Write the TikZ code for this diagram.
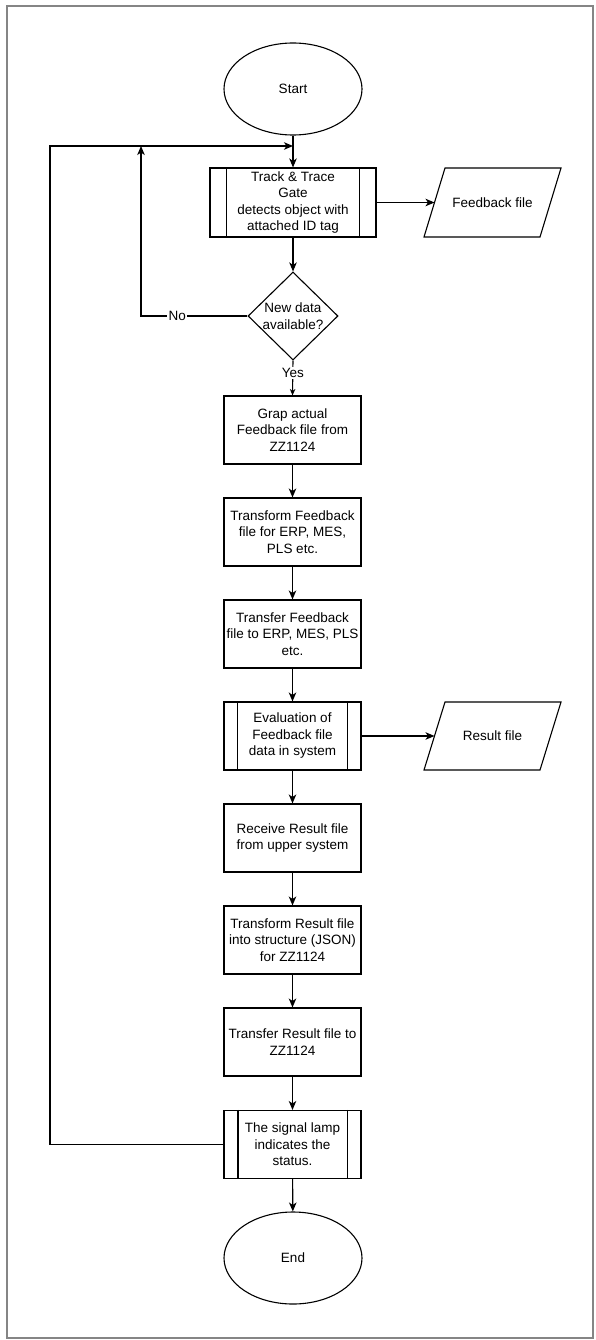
\documentclass[tikz,border=0pt]{standalone}
\usepackage{fontspec}
\setmainfont{Liberation Sans}
\usetikzlibrary{arrows.meta,shapes.geometric}
\definecolor{framegray}{RGB}{133,133,133}
\begin{document}
\begin{tikzpicture}[x=1pt,y=-1pt,
  every node/.style={font=\fontsize{13.5}{16.5}\selectfont, align=center, inner sep=0pt},
  ln/.style={draw=black, line width=1.1pt},
  arr/.style={ln, -{Stealth[length=9pt,width=7.5pt,inset=2.5pt]}},
  arrsmall/.style={ln, -{Stealth[length=6.5pt,width=5.5pt,inset=2pt]}},
  term/.style={ellipse, draw, line width=1.1pt, minimum width=138, minimum height=92},
  proc/.style={rectangle, draw, line width=1.1pt, minimum width=137, minimum height=68},
  lbl/.style={fill=white, inner sep=1.2pt},
  pshape/.style={draw=black, line width=1.1pt, line join=miter}
]
\useasboundingbox (0,0) rectangle (596,1340);
\fill[white] (0,0) rectangle (596,1340);
\draw[framegray, line width=2.4pt] (7,6) rectangle (593,1338);

% nodes
\node[term] (start) at (293,89) {Start};
\node[proc, minimum width=166, minimum height=69] (trk) at (293,202.5) {Track \& Trace\\Gate\\detects object with\\attached ID tag};
\draw[ln] ([xshift=17]trk.north west) -- ([xshift=17]trk.south west);
\draw[ln] ([xshift=-17]trk.north east) -- ([xshift=-17]trk.south east);

\node (fb) at (492.5,202.5) {Feedback file};
\draw[pshape] (445,168) -- (561,168) -- (540,237) -- (424,237) -- cycle;
\coordinate (fbin) at (434.5,202.5);

\node[diamond, draw, line width=1.1pt, minimum width=90, minimum height=88] (dec) at (293,316) {};
\node (dectext) at (293,316) {New data\\available?};

\node[proc] (grap) at (292.5,430) {Grap actual\\Feedback file from\\ZZ1124};
\node[proc] (tf) at (292.5,532) {Transform Feedback\\file for ERP, MES,\\PLS etc.};
\node[proc] (trf) at (292.5,634) {Transfer Feedback\\file to ERP, MES, PLS\\etc.};
\node[proc] (eval) at (292.5,736) {Evaluation of\\Feedback file\\data in system};
\draw[ln] ([xshift=14]eval.north west) -- ([xshift=14]eval.south west);
\draw[ln] ([xshift=-14]eval.north east) -- ([xshift=-14]eval.south east);

\node (rs) at (492.5,736) {Result file};
\draw[pshape] (445,702) -- (561,702) -- (540,770) -- (424,770) -- cycle;
\coordinate (rsin) at (434.5,736);

\node[proc] (recv) at (292.5,838) {Receive Result file\\from upper system};
\node[proc] (tr) at (292.5,940) {Transform Result file\\into structure (JSON)\\for ZZ1124};
\node[proc] (trr) at (292.5,1042) {Transfer Result file to\\ZZ1124};
\node[proc] (lamp) at (292.5,1144.5) {The signal lamp\\indicates the\\status.};
\draw[ln] ([xshift=14.5]lamp.north west) -- ([xshift=14.5]lamp.south west);
\draw[ln] ([xshift=-14.5]lamp.north east) -- ([xshift=-14.5]lamp.south east);

\node[term] (end) at (293,1258) {End};

% loop coordinates
\coordinate (merge) at (293,146);
\coordinate (nocorner) at (141,316);
\coordinate (notop) at (141,146);
\coordinate (lb) at (50,1144.5);
\coordinate (lt) at (50,146);

% connectors
\draw[arr] (start) -- (trk);
\draw[arr] (trk.east) -- (fbin);
\draw[arr] (trk) -- (dec);
\draw[arrsmall] (dec.south) -- node[lbl, pos=0.36] {Yes} (grap.north);
\draw[arr] (dec.west) -- node[lbl, pos=0.66] {No} (nocorner) -- (notop);
\draw[arr] (lamp.west) -- (lb) -- (lt) -- (merge);
\draw[arr] (grap) -- (tf);
\draw[arr] (tf) -- (trf);
\draw[arr] (trf) -- (eval);
\draw[arr] (eval.east) -- (rsin);
\draw[arr] (eval) -- (recv);
\draw[arr] (recv) -- (tr);
\draw[arr] (tr) -- (trr);
\draw[arr] (trr) -- (lamp);
\draw[arr] (lamp) -- (end);
\end{tikzpicture}
\end{document}
